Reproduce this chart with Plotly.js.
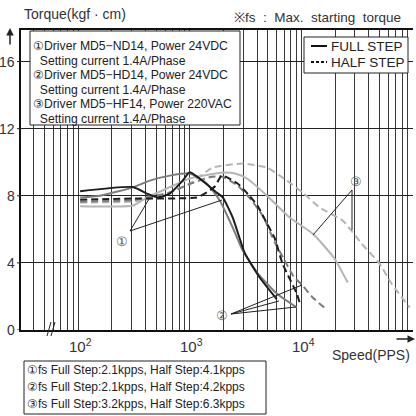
<!DOCTYPE html>
<html><head><meta charset="utf-8">
<script src="https://cdn.plot.ly/plotly-3.0.1.min.js"></script>
<style>html,body{margin:0;padding:0;background:#fff;}#chart{width:416px;height:416px;}</style>
</head><body><div id="chart"></div>
<script>
// ---- data (speed in pps, torque in kgf·cm) ----
const fullStep1Speed = [104, 309, 412, 516, 661, 865, 1000, 1734, 1973, 2425, 3105, 4230, 6010];
const fullStep1Torque = [8.27, 8.52, 8.13, 7.9, 8.13, 8.91, 9.4, 8.2, 7.9, 6.7, 4.6, 3.13, 1.84];

const fullStep2Speed = [104, 156, 309, 438, 661, 1000, 1419, 1854, 2426, 2979, 4063, 6010, 9080];
const fullStep2Torque = [7.9, 8.0, 8.5, 8.9, 9.2, 9.33, 8.73, 7.72, 6.1, 4.74, 3.37, 2.17, 1.34];

const halfStep1Speed = [104, 309, 1156, 1419, 1675, 1936, 2680, 3430, 4045, 4866, 5740, 6770, 7830, 9070, 9640];
const halfStep1Torque = [7.76, 7.84, 7.9, 8.2, 8.55, 9.2, 8.73, 8.0, 7.4, 6.4, 5.5, 3.96, 3.07, 2.18, 1.64];

const halfStep2Speed = [104, 309, 661, 1000, 1500, 1936, 2700, 3600, 4500, 5800, 7000, 8500, 10260, 12600, 16900];
const halfStep2Torque = [7.65, 7.75, 8.2, 8.7, 9.1, 9.15, 8.6, 7.7, 6.8, 5.2, 4.2, 3.2, 2.65, 1.94, 1.22];

const fullStep3Speed = [104, 309, 412, 622, 1000, 1983, 2540, 3250, 4890, 7850, 12600, 19500, 26000];
const fullStep3Torque = [7.38, 7.42, 7.9, 8.43, 9.03, 9.39, 9.33, 9.03, 8.02, 6.7, 5.75, 4.32, 2.83];

const halfStep3Speed = [104, 309, 537, 1000, 1607, 2985, 4900, 7380, 10260, 14550, 23400, 34600, 50100, 64200, 93300];
const halfStep3Torque = [7.6, 7.66, 7.96, 8.73, 9.68, 9.92, 9.68, 8.91, 8.19, 7.3, 6.53, 5.15, 3.96, 2.77, 1.34];

const yTickVals = [0, 4, 8, 12, 16];
const yTickText = ['0', '4', '8', '12', '16'];
const xMajor = [100, 1000, 10000];
const xMajorText = ['10<sup>2</sup>', '10<sup>3</sup>', '10<sup>4</sup>'];

const driverLines = [
  '\u2460Driver MD5\u2212ND14, Power 24VDC',
  '&nbsp;&nbsp;Setting current 1.4A/Phase',
  '\u2461Driver MD5\u2212HD14, Power 24VDC',
  '&nbsp;&nbsp;Setting current 1.4A/Phase',
  '\u2462Driver MD5\u2212HF14, Power 220VAC',
  '&nbsp;&nbsp;Setting current 1.4A/Phase'
];
const fsLines = [
  '\u2460fs Full Step:2.1kpps, Half Step:4.1kpps',
  '\u2461fs Full Step:2.1kpps, Half Step:4.2kpps',
  '\u2462fs Full Step:3.2kpps, Half Step:6.3kpps'
];

// ---- grid tick values (1..9 multiples) ----
const xGrid = [];
[10, 100, 1000, 10000].forEach(d => {
  for (let k = 1; k <= 9; k++) { const v = k * d; if (v >= 40) xGrid.push(v); }
});
xGrid.push(100000);

// ---- pixel helpers (plot area: x 21..413, y 30..330) ----
const L = 21, R = 413, T = 30, B = 330;
const px = x => (x - L) / (R - L);
const py = y => (B - y) / (B - T);

const FONT = '"Liberation Sans", Arial, sans-serif';
const BLACK = '#1c1c1c', DARK = '#7c7c7c', LIGHT = '#b5b5b5';

function tr(x, y, color, dash, width) {
  return {x: x, y: y, type: 'scatter', mode: 'lines', hoverinfo: 'skip',
    line: {color: color, dash: dash, width: width || 2, shape: 'spline', smoothing: 0.5}};
}
const traces = [
  tr(halfStep3Speed, halfStep3Torque, LIGHT, '7px,4px'),
  tr(fullStep3Speed, fullStep3Torque, LIGHT, 'solid'),
  tr(halfStep2Speed, halfStep2Torque, DARK, '7px,4px'),
  tr(fullStep2Speed, fullStep2Torque, DARK, 'solid'),
  tr(halfStep1Speed, halfStep1Torque, BLACK, '7px,4px'),
  tr(fullStep1Speed, fullStep1Torque, BLACK, 'solid')
];

const shapes = [];
const ann = [];
function pline(x0, y0, x1, y1, color, w, dash) {
  shapes.push({type: 'line', xref: 'paper', yref: 'paper', x0: px(x0), y0: py(y0), x1: px(x1), y1: py(y1),
    line: {color: color || '#222', width: w || 1, dash: dash || 'solid'}, layer: 'above'});
}
function prect(x0, y0, x1, y1) {
  shapes.push({type: 'rect', xref: 'paper', yref: 'paper', x0: px(x0), y0: py(y0), x1: px(x1), y1: py(y1),
    line: {color: '#222', width: 1}, fillcolor: '#fff', layer: 'above'});
}
function ptext(x, y, text, size, anchor, color) {
  ann.push({xref: 'paper', yref: 'paper', x: px(x), y: py(y), text: text, showarrow: false,
    xanchor: anchor || 'left', yanchor: 'middle', font: {family: FONT, size: size || 12, color: color || '#222'}});
}

// y tick labels, placed on the y scale
yTickVals.forEach((v, i) => ann.push({xref: 'paper', yref: 'y', x: px(16.5), y: v, text: yTickText[i],
  showarrow: false, xanchor: 'right', yanchor: 'middle', font: {family: FONT, size: 14, color: '#333'}}));
// x major labels, placed on the log x scale
xMajor.forEach((v, i) => ann.push({xref: 'x', yref: 'paper', x: Math.log10(v), y: py(345), text: xMajorText[i],
  showarrow: false, xanchor: 'center', yanchor: 'middle', xshift: 2, font: {family: FONT, size: 15, color: '#333'}}));

// driver legend box
prect(30, 31, 240, 125);
driverLines.forEach((t, i) => ptext(31, 46 + i * 14.6, t, 12.2));
// step legend box
prect(304, 37, 408, 73);
pline(311, 46, 327, 46, '#111', 2);
pline(311, 62, 327, 62, '#111', 2, '3px,2px');
ptext(329, 46, 'FULL STEP', 13.5);
ptext(329, 62, 'HALF STEP', 13.5);
// fs box
prect(24, 361, 266, 414);
fsLines.forEach((t, i) => ptext(25, 370 + i * 17, t, 12));

// titles
ptext(22, 14, 'Torque(kgf\u00a0·\u00a0cm)', 14, 'left', '#333');
ptext(232, 17, '\u203bfs\u00a0\u00a0:\u00a0\u00a0Max.\u00a0\u00a0starting\u00a0\u00a0torque', 13.5, 'left', '#333');
ptext(330, 355, 'Speed(PPS)', 14, 'left', '#333');

// pointer lines & circled numbers
pline(130, 231, 149, 199); pline(130, 231, 222, 200);
ptext(122, 241, '\u2460', 13, 'center', '#555');
pline(231, 314, 302, 285); pline(231, 314, 296, 307); pline(231, 314, 279, 301);
ptext(222, 315, '\u2461', 13, 'center', '#555');
pline(352, 190, 313, 235); pline(352, 190, 352, 230);
ptext(356, 181, '\u2462', 13, 'center', '#555');

// axis break mark
pline(47, 336, 51, 322, '#222', 1); pline(51, 336, 55, 322, '#222', 1);
// y tick marks
yTickVals.forEach(v => shapes.push({type: 'line', xref: 'paper', yref: 'y', x0: px(17), x1: px(21), y0: v, y1: v,
  line: {color: '#222', width: 1}}));

// arrows
ann.push({xref: 'paper', yref: 'paper', x: px(10), y: py(28), ax: 0, ay: 18, text: '', showarrow: true,
  arrowhead: 2, arrowsize: 1, arrowwidth: 1.5, arrowcolor: '#222'});
ann.push({xref: 'paper', yref: 'paper', x: px(415), y: py(339), ax: -20, ay: 0, text: '', showarrow: true,
  arrowhead: 2, arrowsize: 1, arrowwidth: 1.5, arrowcolor: '#222'});

const layout = {
  width: 416, height: 416,
  margin: {l: L, r: 416 - R, t: T, b: 416 - B, pad: 0},
  paper_bgcolor: '#fff', plot_bgcolor: '#fff',
  showlegend: false,
  xaxis: {type: 'log', range: [Math.log10(30.7), 5.0], tickmode: 'array', tickvals: xGrid, showticklabels: false,
    showgrid: true, gridcolor: '#3a3a3a', gridwidth: 1, showline: true, linecolor: '#111', linewidth: 2,
    mirror: true, ticks: '', zeroline: false},
  yaxis: {range: [0, 17.88], tickmode: 'array', tickvals: yTickVals, showticklabels: false, showgrid: true,
    gridcolor: '#222', gridwidth: 1, showline: true, linecolor: '#111', linewidth: 2, ticks: '',
    zeroline: false},
  shapes: shapes, annotations: ann
};
Plotly.newPlot('chart', traces, layout, {staticPlot: true, displayModeBar: false});
</script></body></html>
